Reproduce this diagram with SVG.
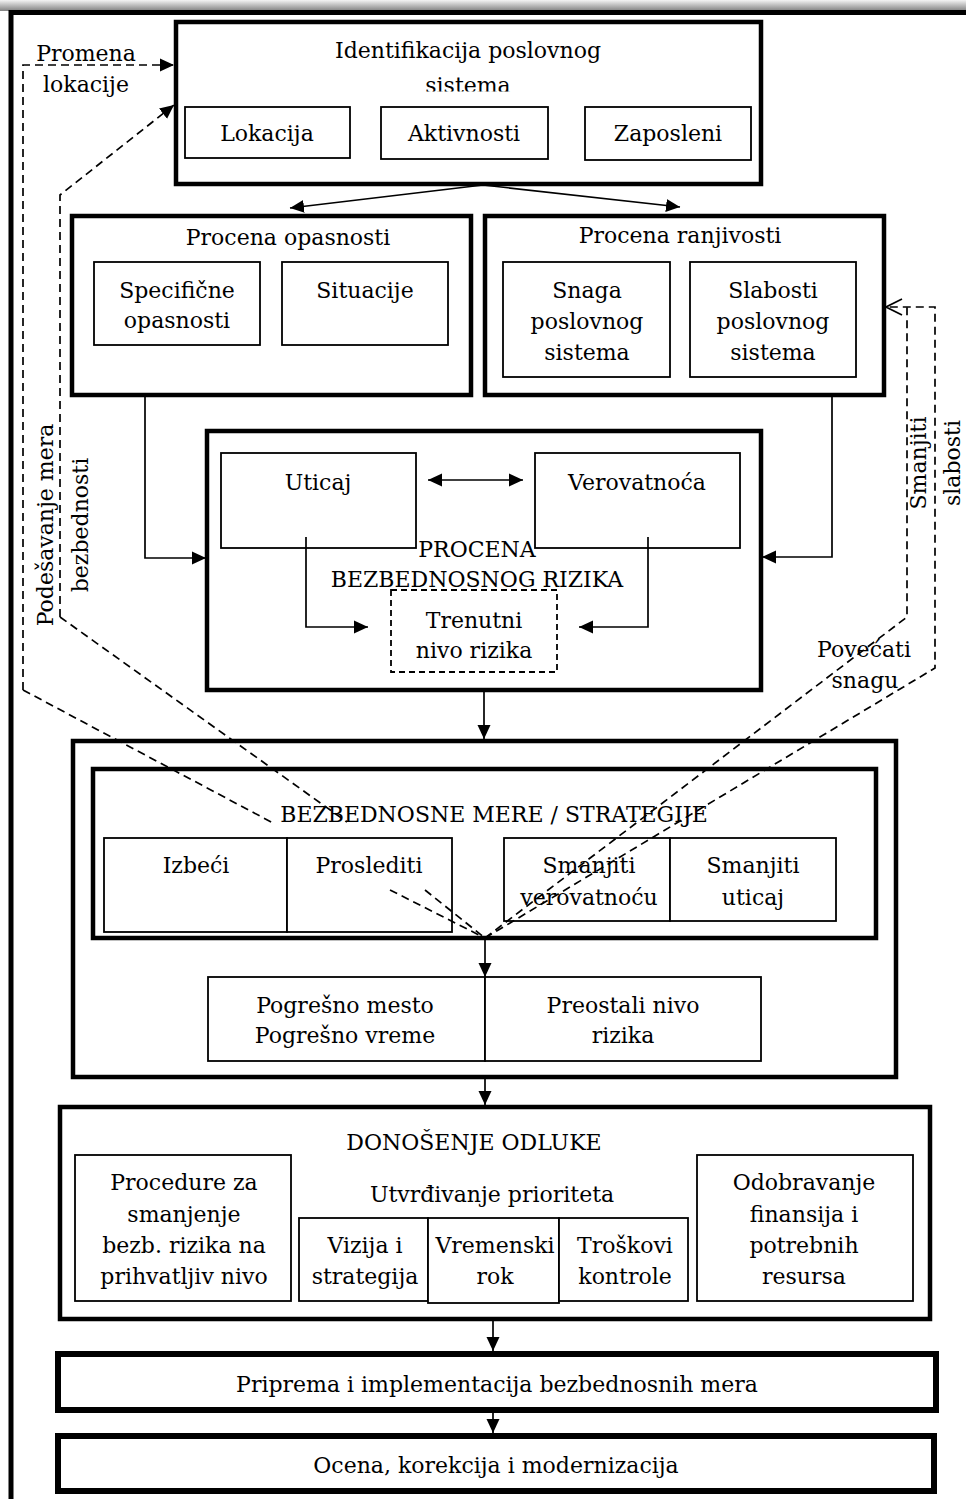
<svg xmlns="http://www.w3.org/2000/svg" width="966" height="1499" viewBox="0 0 966 1499">
<style>
.frame{fill:none;stroke:#000;stroke-width:5}
.big{fill:#fff;stroke:#000;stroke-width:4.5}
.big6{fill:#fff;stroke:#000;stroke-width:6}
.inner{fill:#fff;stroke:#000;stroke-width:1.8}
.dbox{fill:#fff;stroke:#000;stroke-width:1.8;stroke-dasharray:6 4}
.t{font-family:"DejaVu Serif","Liberation Serif",serif;font-size:22px;text-anchor:middle;fill:#000}
.conn{fill:none;stroke:#000;stroke-width:1.7}
.dash{fill:none;stroke:#000;stroke-width:1.7;stroke-dasharray:8 5}
</style>
<defs>
<linearGradient id="shadow" x1="0" y1="0" x2="0" y2="1">
<stop offset="0" stop-color="#f4f4f4"/>
<stop offset="1" stop-color="#808080"/>
</linearGradient>
<marker id="ah" markerUnits="userSpaceOnUse" markerWidth="14" markerHeight="14" viewBox="0 0 14 14" refX="14" refY="7" orient="auto-start-reverse">
<path d="M0,0.5 L14,7 L0,13.5 z" fill="#000"/>
</marker>
<marker id="oa" markerUnits="userSpaceOnUse" markerWidth="18" markerHeight="18" viewBox="0 0 18 18" refX="17" refY="9" orient="auto">
<path d="M1,1 L17,9 L1,17" fill="none" stroke="#000" stroke-width="1.7"/>
</marker>
<clipPath id="clip1"><rect x="176" y="22" width="585" height="69.5"/></clipPath>
</defs>

<rect x="0" y="0" width="966" height="11" fill="url(#shadow)"/>
<path class="frame" d="M11,1499 V12.5 H966"/>

<g id="identifikacija">
<rect class="big" x="176" y="22" width="585" height="162"/>
<g clip-path="url(#clip1)">
<text class="t" x="468" y="58">Identifikacija poslovnog</text>
<text class="t" x="468" y="93">sistema</text>
</g>
<g id="lokacija"><rect class="inner" x="185" y="107" width="165" height="51"/><text class="t" x="267" y="141">Lokacija</text></g>
<g id="aktivnosti"><rect class="inner" x="381" y="107" width="167" height="52"/><text class="t" x="464" y="141">Aktivnosti</text></g>
<g id="zaposleni"><rect class="inner" x="585" y="107" width="166" height="53"/><text class="t" x="668" y="141">Zaposleni</text></g>
</g>

<g id="procena-opasnosti">
<rect class="big" x="72" y="216" width="399" height="179"/>
<text class="t" x="288" y="245">Procena opasnosti</text>
<g id="specificne"><rect class="inner" x="94" y="262" width="166" height="83"/><text class="t" x="177" y="298">Specifične</text><text class="t" x="177" y="328">opasnosti</text></g>
<g id="situacije"><rect class="inner" x="282" y="262" width="166" height="83"/><text class="t" x="365" y="298">Situacije</text></g>
</g>

<g id="procena-ranjivosti">
<rect class="big" x="485" y="216" width="399" height="179"/>
<text class="t" x="680" y="243">Procena ranjivosti</text>
<g id="snaga"><rect class="inner" x="503" y="262" width="167" height="115"/><text class="t" x="587" y="298">Snaga</text><text class="t" x="587" y="329">poslovnog</text><text class="t" x="587" y="360">sistema</text></g>
<g id="slabosti"><rect class="inner" x="690" y="262" width="166" height="115"/><text class="t" x="773" y="298">Slabosti</text><text class="t" x="773" y="329">poslovnog</text><text class="t" x="773" y="360">sistema</text></g>
</g>

<g id="procena-rizika">
<rect class="big" x="207" y="431" width="554" height="259"/>
<g id="uticaj"><rect class="inner" x="221" y="453" width="195" height="95"/><text class="t" x="318" y="490">Uticaj</text></g>
<g id="verovatnoca"><rect class="inner" x="535" y="453" width="205" height="95"/><text class="t" x="637" y="490">Verovatnoća</text></g>
<text class="t" x="477" y="557">PROCENA</text>
<text class="t" x="477" y="587">BEZBEDNOSNOG RIZIKA</text>
<g id="trenutni"><rect class="dbox" x="391" y="590" width="166" height="82"/><text class="t" x="474" y="628">Trenutni</text><text class="t" x="474" y="658">nivo rizika</text></g>
</g>

<g id="mere">
<rect class="big" x="73" y="741" width="823" height="336"/>
<rect class="big" x="93" y="769" width="783" height="169"/>
<text class="t" x="494" y="822">BEZBEDNOSNE MERE / STRATEGIJE</text>
<g id="izbeci"><rect class="inner" x="104" y="838" width="183" height="94"/><text class="t" x="196" y="873">Izbeći</text></g>
<g id="proslediti"><rect class="inner" x="287" y="838" width="165" height="94"/><text class="t" x="369" y="873">Proslediti</text></g>
<g id="smanjiti-verovatnocu"><rect class="inner" x="504" y="838" width="166" height="83"/><text class="t" x="589" y="873">Smanjiti</text><text class="t" x="589" y="905">verovatnoću</text></g>
<g id="smanjiti-uticaj"><rect class="inner" x="670" y="838" width="166" height="83"/><text class="t" x="753" y="873">Smanjiti</text><text class="t" x="753" y="905">uticaj</text></g>
<g id="pogresno"><rect class="inner" x="208" y="977" width="277" height="84"/><text class="t" x="345" y="1013">Pogrešno mesto</text><text class="t" x="345" y="1043">Pogrešno vreme</text></g>
<g id="preostali"><rect class="inner" x="485" y="977" width="276" height="84"/><text class="t" x="623" y="1013">Preostali nivo</text><text class="t" x="623" y="1043">rizika</text></g>
</g>

<g id="odluka">
<rect class="big" x="60" y="1107" width="870" height="212"/>
<text class="t" x="474" y="1150">DONOŠENJE ODLUKE</text>
<g id="procedure"><rect class="inner" x="75" y="1155" width="216" height="146"/><text class="t" x="184" y="1190">Procedure za</text><text class="t" x="184" y="1222">smanjenje</text><text class="t" x="184" y="1253">bezb. rizika na</text><text class="t" x="184" y="1284">prihvatljiv nivo</text></g>
<text class="t" x="492" y="1202">Utvrđivanje prioriteta</text>
<g id="vizija"><rect class="inner" x="299" y="1218" width="129" height="83"/><text class="t" x="365" y="1253">Vizija i</text><text class="t" x="365" y="1284">strategija</text></g>
<g id="vremenski"><rect class="inner" x="428" y="1218" width="131" height="85"/><text class="t" x="495" y="1253">Vremenski</text><text class="t" x="495" y="1284">rok</text></g>
<g id="troskovi"><rect class="inner" x="559" y="1218" width="129" height="83"/><text class="t" x="625" y="1253">Troškovi</text><text class="t" x="625" y="1284">kontrole</text></g>
<g id="odobravanje"><rect class="inner" x="697" y="1155" width="216" height="146"/><text class="t" x="804" y="1190">Odobravanje</text><text class="t" x="804" y="1222">finansija i</text><text class="t" x="804" y="1253">potrebnih</text><text class="t" x="804" y="1284">resursa</text></g>
</g>

<g id="priprema">
<rect class="big6" x="58" y="1354" width="878" height="56"/>
<text class="t" x="497" y="1392">Priprema i implementacija bezbednosnih mera</text>
</g>

<g id="ocena">
<rect class="big6" x="58" y="1436" width="876" height="55"/>
<text class="t" x="496" y="1473">Ocena, korekcija i modernizacija</text>
</g>

<g id="labels">
<text class="t" x="86" y="61">Promena</text>
<text class="t" x="86" y="92">lokacije</text>
<text class="t" transform="translate(53,525) rotate(-90)">Podešavanje mera</text>
<text class="t" transform="translate(88,525) rotate(-90)">bezbednosti</text>
<text class="t" transform="translate(926,463) rotate(-90)">Smanjiti</text>
<text class="t" transform="translate(960,463) rotate(-90)">slabosti</text>
<text class="t" x="864" y="657">Povećati</text>
<text class="t" x="865" y="688">snagu</text>
</g>

<g id="connectors">
<path class="conn" d="M483,185 L290,208" marker-end="url(#ah)"/>
<path class="conn" d="M483,185 L680,207" marker-end="url(#ah)"/>
<path class="conn" d="M145,395 V558 H206" marker-end="url(#ah)"/>
<path class="conn" d="M832,395 V557 H762" marker-end="url(#ah)"/>
<path class="conn" d="M428,480 H523" marker-start="url(#ah)" marker-end="url(#ah)"/>
<path class="conn" d="M306,537 V627 H368" marker-end="url(#ah)"/>
<path class="conn" d="M648,537 V627 H579" marker-end="url(#ah)"/>
<path class="conn" d="M484,690 V739" marker-end="url(#ah)"/>
<path class="conn" d="M485,938 V977" marker-end="url(#ah)"/>
<path class="conn" d="M485,1077 V1105" marker-end="url(#ah)"/>
<path class="conn" d="M493,1319 V1351" marker-end="url(#ah)"/>
<path class="conn" d="M493,1410 V1433" marker-end="url(#ah)"/>
<path class="dash" d="M23,690 V65 H174" marker-end="url(#ah)"/>
<path class="dash" d="M60,617 V195 L174,105" marker-end="url(#ah)"/>
<path class="dash" d="M23,690 L273,823 M390,890 L485,938"/>
<path class="dash" d="M60,617 L347,822 M425,890 L485,938"/>
<path class="dash" d="M485,938 L907,617 V307"/>
<path class="dash" d="M485,938 L935,668 V307 H886" marker-end="url(#oa)"/>
</g>
</svg>
